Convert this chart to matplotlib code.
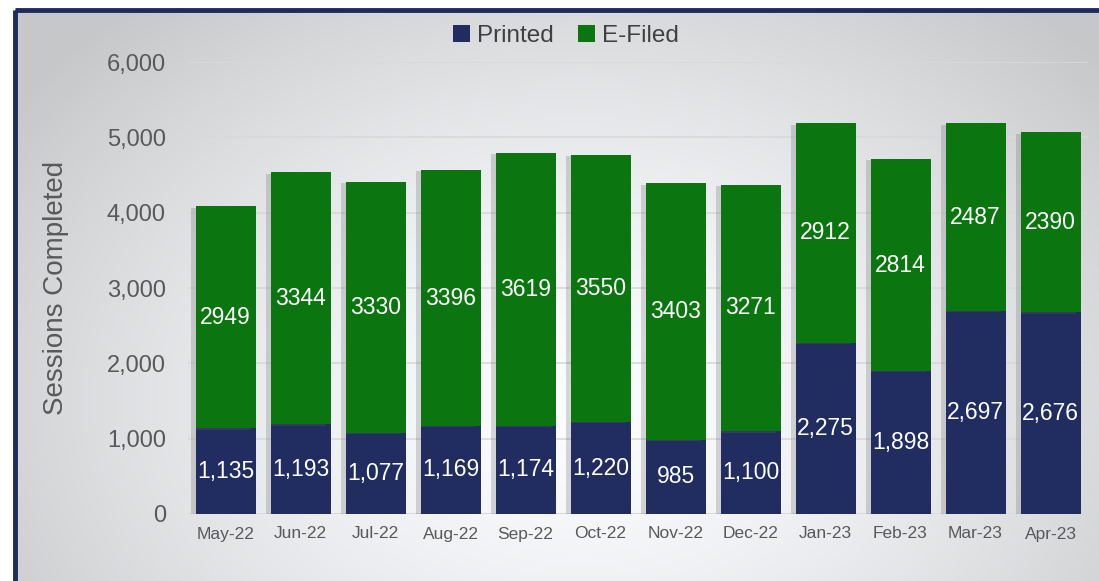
import numpy as np
import matplotlib.pyplot as plt
from matplotlib.patches import Rectangle
from matplotlib.ticker import FuncFormatter
import matplotlib.patheffects as pe

plt.rcParams['font.family'] = ['Liberation Sans', 'DejaVu Sans']

months = ['May-22', 'Jun-22', 'Jul-22', 'Aug-22', 'Sep-22', 'Oct-22',
          'Nov-22', 'Dec-22', 'Jan-23', 'Feb-23', 'Mar-23', 'Apr-23']
printed = [1135, 1193, 1077, 1169, 1174, 1220, 985, 1100, 2275, 1898, 2697, 2676]
efiled = [2949, 3344, 3330, 3396, 3619, 3550, 3403, 3271, 2912, 2814, 2487, 2390]

navy = '#212c60'
green = '#0b760f'

fig = plt.figure(figsize=(10.99, 5.81), dpi=100)

# background: white outside, grey-white gradient inside the navy frame
bg = fig.add_axes([0, 0, 1, 1], zorder=-10)
bg.set_xlim(0, 1099)
bg.set_ylim(581, 0)
bg.axis('off')
yy, xx = np.mgrid[10:581, 15:1099]
d = np.sqrt(((xx - 580) / 600.0) ** 2 + ((yy - 400) / 450.0) ** 2)
shade = np.clip(1.0 - 0.17 * d ** 1.5, 0.79, 1.0)
img = np.dstack([shade * 0.985, shade * 0.99, shade * 1.0])
bg.imshow(np.clip(img, 0, 1), extent=(15, 1099, 581, 10), aspect='auto', zorder=0)
bg.add_patch(Rectangle((15, 10), 1100, 600, fill=False, edgecolor='#1f2a5e', lw=3.5, zorder=2))

ax = fig.add_axes([188 / 1099, 1 - 514 / 581, 900 / 1099, 452 / 581])
ax.patch.set_alpha(0)

x = np.arange(len(months))
b1 = ax.bar(x, printed, width=0.8, color=navy, label='Printed', zorder=3)
b2 = ax.bar(x, efiled, width=0.8, bottom=printed, color=green, label='E-Filed', zorder=3)

for i in range(len(months)):
    ax.text(x[i], printed[i] / 2, f'{printed[i]:,}', ha='center', va='center',
            color='white', fontsize=16.5, zorder=5)
    ax.text(x[i], printed[i] + efiled[i] / 2, f'{efiled[i]}', ha='center', va='center',
            color='white', fontsize=16.5, zorder=5)

ax.set_xlim(-0.5, len(months) - 0.5)
ax.set_ylim(0, 6000)
ax.set_yticks(range(0, 6001, 1000))
ax.yaxis.set_major_formatter(FuncFormatter(lambda v, p: f'{int(v):,}'))
ax.set_xticks(x)
ax.set_xticklabels(months)
ax.tick_params(axis='y', length=0, pad=16, labelsize=17, labelcolor='#595959')
ax.tick_params(axis='x', length=0, pad=9, labelsize=12.5, labelcolor='#595959')
ax.grid(axis='y', color='#d9d9d9', lw=1.2, zorder=0)
for s in ax.spines.values():
    s.set_visible(False)
ax.axhline(0, color='#d9d9d9', lw=1.2, zorder=1)

ax.set_ylabel('Sessions Completed', fontsize=20, color='#595959', labelpad=27)

ax.legend(loc='upper center', bbox_to_anchor=(0.42, 1.13), ncol=2, frameon=False,
          fontsize=17.5, handlelength=0.7, handleheight=0.7, handletextpad=0.3,
          columnspacing=1.0, labelcolor='#404040')

# soft shadow on the left of the bars, added after the legend so the keys stay clean
shadow = [pe.SimplePatchShadow(offset=(-3, -1), shadow_rgbFace='#666666', alpha=0.25), pe.Normal()]
for bar in list(b1) + list(b2):
    bar.set_path_effects(shadow)

fig.savefig('out.png', dpi=100)
